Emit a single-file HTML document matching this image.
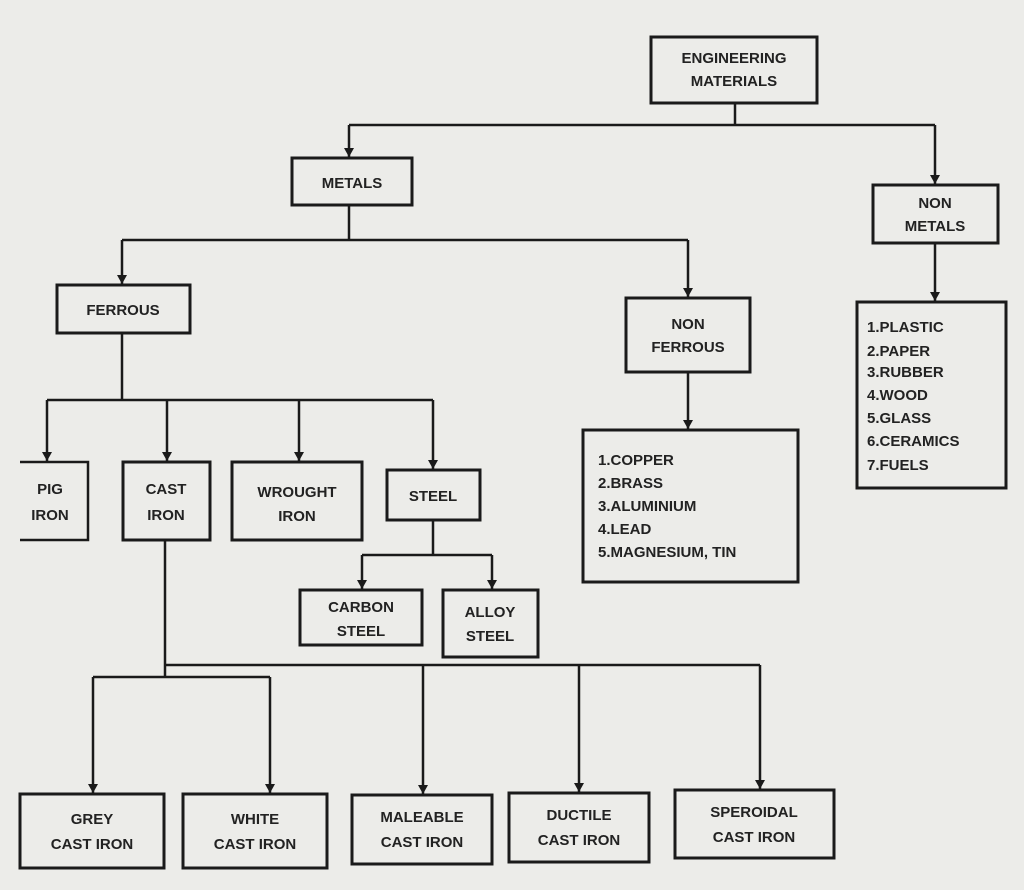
<!DOCTYPE html>
<html><head><meta charset="utf-8"><style>
html,body{margin:0;padding:0;background:#ecece9;}
svg{display:block}
text{font-family:"Liberation Sans",sans-serif;font-size:15px;font-weight:bold;fill:#222;text-anchor:middle}
rect{fill:none;stroke:#1a1a1a;stroke-width:3}
line,polyline{stroke:#1a1a1a;stroke-width:2.5;fill:none}
</style></head><body>
<svg width="1024" height="890" viewBox="0 0 1024 890">
<defs><marker id="a" markerWidth="10" markerHeight="10" refX="9" refY="5" orient="auto" markerUnits="userSpaceOnUse"><path d="M0,0 L9,5 L0,10 z" fill="#1a1a1a"/></marker></defs>
<rect width="1024" height="890" style="fill:#ecece9;stroke:none"/>
<rect x="651" y="37" width="166" height="66"/><text x="734" y="63">ENGINEERING</text><text x="734" y="86">MATERIALS</text>
<rect x="292" y="158" width="120" height="47"/><text x="352" y="188">METALS</text>
<rect x="873" y="185" width="125" height="58"/><text x="935" y="208">NON</text><text x="935" y="231">METALS</text>
<rect x="57" y="285" width="133" height="48"/><text x="123" y="315">FERROUS</text>
<rect x="626" y="298" width="124" height="74"/><text x="688" y="329">NON</text><text x="688" y="352">FERROUS</text>
<rect x="857" y="302" width="149" height="186"/>
<text x="867" y="332" style="text-anchor:start">1.PLASTIC</text><text x="867" y="356" style="text-anchor:start">2.PAPER</text><text x="867" y="377" style="text-anchor:start">3.RUBBER</text><text x="867" y="400" style="text-anchor:start">4.WOOD</text><text x="867" y="423" style="text-anchor:start">5.GLASS</text><text x="867" y="446" style="text-anchor:start">6.CERAMICS</text><text x="867" y="470" style="text-anchor:start">7.FUELS</text>
<rect x="583" y="430" width="215" height="152"/>
<text x="598" y="465" style="text-anchor:start">1.COPPER</text><text x="598" y="488" style="text-anchor:start">2.BRASS</text><text x="598" y="511" style="text-anchor:start">3.ALUMINIUM</text><text x="598" y="534" style="text-anchor:start">4.LEAD</text><text x="598" y="557" style="text-anchor:start">5.MAGNESIUM, TIN</text>
<polyline points="20,462 88,462 88,540 20,540"/><text x="50" y="494">PIG</text><text x="50" y="520">IRON</text>
<rect x="123" y="462" width="87" height="78"/><text x="166" y="494">CAST</text><text x="166" y="520">IRON</text>
<rect x="232" y="462" width="130" height="78"/><text x="297" y="497">WROUGHT</text><text x="297" y="521">IRON</text>
<rect x="387" y="470" width="93" height="50"/><text x="433" y="501">STEEL</text>
<rect x="300" y="590" width="122" height="55"/><text x="361" y="612">CARBON</text><text x="361" y="636">STEEL</text>
<rect x="443" y="590" width="95" height="67"/><text x="490" y="617">ALLOY</text><text x="490" y="641">STEEL</text>
<rect x="20" y="794" width="144" height="74"/><text x="92" y="824">GREY</text><text x="92" y="849">CAST IRON</text>
<rect x="183" y="794" width="144" height="74"/><text x="255" y="824">WHITE</text><text x="255" y="849">CAST IRON</text>
<rect x="352" y="795" width="140" height="69"/><text x="422" y="822">MALEABLE</text><text x="422" y="847">CAST IRON</text>
<rect x="509" y="793" width="140" height="69"/><text x="579" y="820">DUCTILE</text><text x="579" y="845">CAST IRON</text>
<rect x="675" y="790" width="159" height="68"/><text x="754" y="817">SPEROIDAL</text><text x="754" y="842">CAST IRON</text>
<line x1="735" y1="103" x2="735" y2="125"/>
<line x1="349" y1="125" x2="935" y2="125"/>
<line x1="349" y1="125" x2="349" y2="157" marker-end="url(#a)"/>
<line x1="935" y1="125" x2="935" y2="184" marker-end="url(#a)"/>
<line x1="349" y1="205" x2="349" y2="240"/>
<line x1="122" y1="240" x2="688" y2="240"/>
<line x1="122" y1="240" x2="122" y2="284" marker-end="url(#a)"/>
<line x1="688" y1="240" x2="688" y2="297" marker-end="url(#a)"/>
<line x1="935" y1="243" x2="935" y2="301" marker-end="url(#a)"/>
<line x1="688" y1="372" x2="688" y2="429" marker-end="url(#a)"/>
<line x1="122" y1="333" x2="122" y2="400"/>
<line x1="47" y1="400" x2="433" y2="400"/>
<line x1="47" y1="400" x2="47" y2="461" marker-end="url(#a)"/>
<line x1="167" y1="400" x2="167" y2="461" marker-end="url(#a)"/>
<line x1="299" y1="400" x2="299" y2="461" marker-end="url(#a)"/>
<line x1="433" y1="400" x2="433" y2="469" marker-end="url(#a)"/>
<line x1="433" y1="520" x2="433" y2="555"/>
<line x1="362" y1="555" x2="492" y2="555"/>
<line x1="362" y1="555" x2="362" y2="589" marker-end="url(#a)"/>
<line x1="492" y1="555" x2="492" y2="589" marker-end="url(#a)"/>
<line x1="165" y1="540" x2="165" y2="677"/>
<line x1="165" y1="665" x2="760" y2="665"/>
<line x1="93" y1="677" x2="270" y2="677"/>
<line x1="93" y1="677" x2="93" y2="793" marker-end="url(#a)"/>
<line x1="270" y1="677" x2="270" y2="793" marker-end="url(#a)"/>
<line x1="423" y1="665" x2="423" y2="794" marker-end="url(#a)"/>
<line x1="579" y1="665" x2="579" y2="792" marker-end="url(#a)"/>
<line x1="760" y1="665" x2="760" y2="789" marker-end="url(#a)"/>
</svg>
</body></html>
